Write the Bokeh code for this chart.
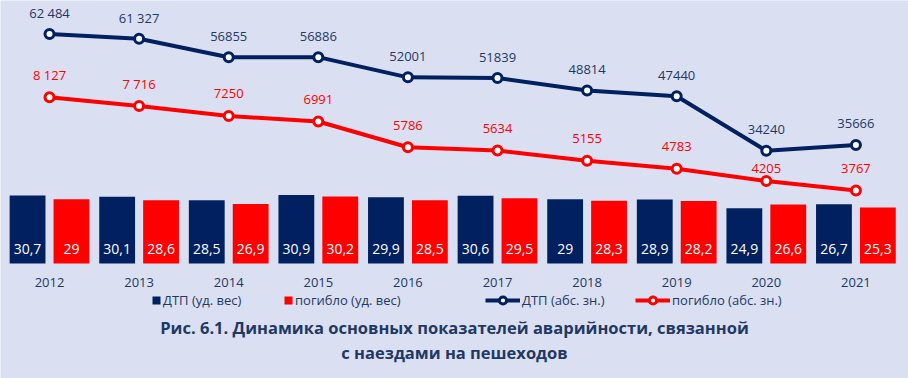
from bokeh.plotting import figure
from bokeh.models import Range1d, Legend, LegendItem, Label, ColumnDataSource
from bokeh.core.properties import value
from bokeh.transform import dodge
from bokeh.embed import file_html
from bokeh.resources import INLINE

# ---- data ----
years = [2012, 2013, 2014, 2015, 2016, 2017, 2018, 2019, 2020, 2021]
year_labels = [str(y) for y in years]
dtp_share = [30.7, 30.1, 28.5, 30.9, 29.9, 30.6, 29.0, 28.9, 24.9, 26.7]
pog_share = [29.0, 28.6, 26.9, 30.2, 28.5, 29.5, 28.3, 28.2, 26.6, 25.3]
dtp_abs = [62484, 61327, 56855, 56886, 52001, 51839, 48814, 47440, 34240, 35666]
pog_abs = [8127, 7716, 7250, 6991, 5786, 5634, 5155, 4783, 4205, 3767]
dtp_abs_labels = ["62 484", "61 327", "56855", "56886", "52001", "51839", "48814", "47440", "34240", "35666"]
pog_abs_labels = ["8 127", "7 716", "7250", "6991", "5786", "5634", "5155", "4783", "4205", "3767"]
series_names = ["ДТП (уд. вес)", "погибло (уд. вес)", "ДТП (абс. зн.)", "погибло (абс. зн.)"]
title_lines = ["Рис. 6.1. Динамика основных показателей аварийности, связанной",
               "с наездами на пешеходов"]

# label offsets (style)
dtp_lbl_dy = [-21] * 10
pog_lbl_dy = [-22, -22, -22, -22, -22, -22, -22, -22, -13, -22]


def fmt(v):
    s = ("%g" % v)
    return s.replace(".", ",")


BG = "#DAE0F2"
NAVY = "#002060"
RED = "#FF0000"
TXT = "#1F3864"
FONT = "Open Sans"

src = ColumnDataSource(dict(
    year=years, year_lbl=year_labels,
    dtp_share=dtp_share, pog_share=pog_share,
    dtp_share_lbl=[fmt(v) for v in dtp_share],
    pog_share_lbl=[fmt(v) for v in pog_share],
    dtp_abs=dtp_abs, pog_abs=pog_abs,
    dtp_lbl=dtp_abs_labels, pog_lbl=pog_abs_labels,
    dtp_dy=dtp_lbl_dy, pog_dy=pog_lbl_dy,
))

p = figure(width=908, height=378, output_backend="svg", toolbar_location=None,
           x_range=Range1d(2011.453, 2021.587), y_range=Range1d(-51.9, 118.7),
           x_axis_location=None, y_axis_location=None, min_border=0,
           background_fill_color=BG, border_fill_color=BG, outline_line_color=None)
p.grid.visible = False
p.extra_y_ranges = {"dtp": Range1d(-20816, 70584), "pog": Range1d(-5024, 12648)}

# bars
rb1 = p.vbar(x=dodge("year", -0.245), top="dtp_share", width=0.4, source=src,
             fill_color=NAVY, line_color=None)
rb2 = p.vbar(x=dodge("year", 0.245), top="pog_share", width=0.4, source=src,
             fill_color=RED, line_color=None)

p.text(x=dodge("year", -0.245), y=0, text="dtp_share_lbl", source=src, y_offset=-15,
       text_align="center", text_baseline="middle", text_color="white",
       text_font=value(FONT), text_font_size="14px")
p.text(x=dodge("year", 0.245), y=0, text="pog_share_lbl", source=src, y_offset=-15,
       text_align="center", text_baseline="middle", text_color="white",
       text_font=value(FONT), text_font_size="14px")

# year labels
p.text(x="year", y=0, text="year_lbl", source=src, y_offset=19,
       text_align="center", text_baseline="middle", text_color=TXT,
       text_font=value(FONT), text_font_size="13px")

# lines
rl1 = p.line("year", "dtp_abs", source=src, y_range_name="dtp", line_color=NAVY, line_width=4)
rs1 = p.scatter("year", "dtp_abs", source=src, y_range_name="dtp", size=9,
                fill_color="white", line_color=NAVY, line_width=3)
rl2 = p.line("year", "pog_abs", source=src, y_range_name="pog", line_color=RED, line_width=4)
rs2 = p.scatter("year", "pog_abs", source=src, y_range_name="pog", size=9,
                fill_color="white", line_color=RED, line_width=3)

p.text(x="year", y="dtp_abs", text="dtp_lbl", source=src, y_range_name="dtp",
       y_offset="dtp_dy", text_align="center", text_baseline="middle",
       text_color=TXT, text_font=value(FONT), text_font_size="13px")
p.text(x="year", y="pog_abs", text="pog_lbl", source=src, y_range_name="pog",
       y_offset="pog_dy", text_align="center", text_baseline="middle",
       text_color=RED, text_font=value(FONT), text_font_size="13px")


def add_legend(label, renderers, x, y, gw, gh):
    lg = Legend(items=[LegendItem(label=label, renderers=renderers)], location=(x, y),
                orientation="horizontal", glyph_width=gw, glyph_height=gh,
                label_standoff=2, padding=0, margin=0, spacing=0,
                border_line_color=None, background_fill_alpha=0,
                label_text_font=FONT, label_text_font_size="13px",
                label_text_color=TXT, label_height=18)
    p.add_layout(lg)


add_legend(series_names[0], [rb1], 151, 69, 10, 10)
add_legend(series_names[1], [rb2], 283, 69, 10, 10)
add_legend(series_names[2], [rl1, rs1], 485, 69, 35, 18)
add_legend(series_names[3], [rl2, rs2], 635, 69, 35, 18)

for txt, yy in zip(title_lines, [51.3, 26.3]):
    p.add_layout(Label(x=454, y=yy, x_units="screen", y_units="screen", text=txt,
                       text_align="center", text_baseline="middle",
                       text_font=FONT, text_font_size="16.5px", text_font_style="bold",
                       text_color=TXT))

open("out.html", "w").write(file_html(p, INLINE))
